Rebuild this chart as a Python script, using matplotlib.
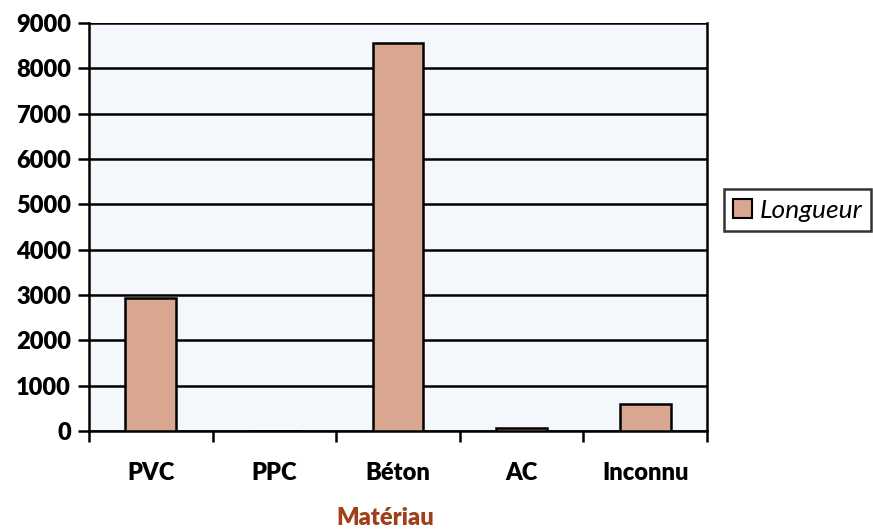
import matplotlib
matplotlib.use("Agg")
import matplotlib.pyplot as plt
import numpy as np
from matplotlib.patches import Patch

categories = ["PVC", "PPC", "Béton", "AC", "Inconnu"]
longueur = [2940, 10, 8560, 70, 600]
yticks = [0, 1000, 2000, 3000, 4000, 5000, 6000, 7000, 8000, 9000]

font = "Lato"
fig = plt.figure(figsize=(8.73, 5.31), dpi=100)
ax = fig.add_axes([89/873, 1-431/531, (707-89)/873, (431-23)/531])
ax.set_facecolor("#f4f8fd")
x = np.arange(len(categories))
bar_color = "#d9a690"
ax.bar(x, longueur, width=0.41, color=bar_color, edgecolor="black", linewidth=1.8, zorder=3)
ax.set_xlim(-0.5, len(categories)-0.5)
ax.set_ylim(0, 9000)
ax.set_yticks(yticks)
ax.set_yticklabels([str(t) for t in yticks], fontsize=17, fontweight="heavy", family=font)
ax.yaxis.grid(True, color="black", linewidth=1.8, zorder=1)
ax.set_axisbelow(True)
ax.set_xticks(x)
ax.set_xticklabels(categories, fontsize=17, fontweight="heavy", family=font)
ax.set_xticks(np.arange(-0.5, len(categories)), minor=True)
ax.tick_params(axis="x", which="major", length=0, pad=22)
ax.tick_params(axis="x", which="minor", length=8, width=1.8, direction="out")
ax.tick_params(axis="y", which="major", length=8, width=1.8, direction="out", pad=5)
for s in ax.spines.values():
    s.set_linewidth(1.8)
ax.spines["top"].set_visible(False)

fig.text(385/873, 1-518/531, "Matériau", ha="center", va="center", fontsize=17,
         fontweight="heavy", color="#a0401a", family=font)

handle = Patch(facecolor=bar_color, edgecolor="black", linewidth=1.5)
leg = fig.legend([handle], ["Longueur"], loc="center left", bbox_to_anchor=(724/873, 1-210/531),
                 prop={"family": font, "style": "italic", "size": 19}, frameon=True, fancybox=False,
                 edgecolor="black", handlelength=0.7, handleheight=0.7, handletextpad=0.3,
                 borderpad=0.35, borderaxespad=0)
leg.get_frame().set_linewidth(1.8)

fig.savefig("out.png", dpi=100)
